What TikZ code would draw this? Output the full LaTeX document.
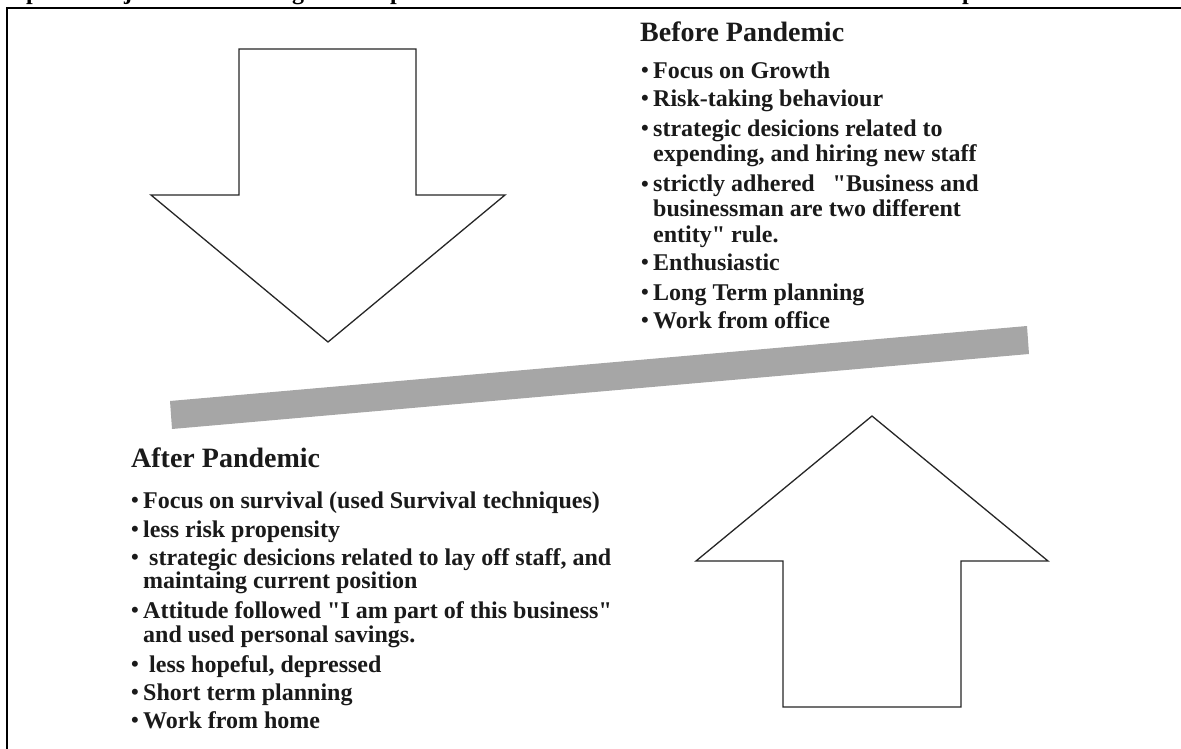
\documentclass[tikz,border=0pt]{standalone}
\usepackage{fontspec}
\setmainfont{Liberation Serif}[Ligatures=TeXOff]
\definecolor{barGray}{HTML}{A6A6A6}
\definecolor{inkDark}{HTML}{1A1A1A}
\begin{document}
\begin{tikzpicture}[x=1pt,y=-1pt,
  hdr/.style={anchor=base west, inner sep=0pt, text=inkDark, font=\fontsize{28}{30}\selectfont\bfseries},
  itm/.style={anchor=base west, inner sep=0pt, text=inkDark, font=\fontsize{24}{26}\selectfont\bfseries},
  bul/.style={anchor=base west, inner sep=0pt, text=inkDark, font=\fontsize{22}{24}\selectfont\bfseries},
  frag/.style={anchor=base west, inner sep=0pt, font=\fontsize{24}{26}\selectfont\bfseries},
  blockarrow/.style={draw=black!85, line width=1.3pt, fill=white, line join=miter}]
\useasboundingbox (0,0) rectangle (1181,749);

% page frame and the clipped caption line above it
\begin{scope}
  \clip (0,0) rectangle (1181,749);
  \node[frag] (c1) at (26,0) {p};
  \node[frag] (c2) at (124,0) {j};
  \node[frag] (c3) at (292,0) {g};
  \node[frag] (c4) at (390,0) {p};
  \node[frag] (c5) at (962,0) {p};
  \draw[line width=1.5pt] (7,760) -- (7,8) -- (1190,8);
\end{scope}

% downward block arrow
\draw[blockarrow] (239,49) -- (416,49) -- (416,195) -- (505,195) -- (328,342)
  -- (151,195) -- (239,195) -- cycle;

% upward block arrow
\draw[blockarrow] (872,416) -- (1048,561) -- (961,561) -- (961,707) -- (783,707)
  -- (783,561) -- (696,561) -- cycle;

% tilted gray bar
\fill[barGray] (170,401) -- (1027,326) -- (1029,354) -- (172,429) -- cycle;

% Before Pandemic
\node[hdr] (bh) at (640,42) {Before Pandemic};
\foreach \n/\y in {1/79,2/107,3/137,4/192,5/270,6/300,7/328}
  \node[bul] (bb\n) at (641,\y-1) {\textbullet};
\node[itm] (b1) at (653,79) {Focus on Growth};
\node[itm] (b2) at (653,107) {Risk-taking behaviour};
\node[itm] (b3) at (653,137) {strategic desicions related to};
\node[itm] (b3b) at (653,162) {expending, and hiring new staff};
\node[itm] (b4) at (653,192) {strictly adhered\ \ \ "Business and};
\node[itm] (b4b) at (653,216) {businessman are two different};
\node[itm] (b4c) at (653,242) {entity" rule.};
\node[itm] (b5) at (653,270) {Enthusiastic};
\node[itm] (b6) at (653,300) {Long\ Term planning};
\node[itm] (b7) at (653,328) {Work from office};

% After Pandemic
\node[hdr] (ah) at (131,467) {After Pandemic};
\foreach \n/\y in {1/508,2/537,3/565,4/618,5/672,6/700,7/728}
  \node[bul] (ab\n) at (131,\y-1) {\textbullet};
\node[itm] (a1) at (143,508) {Focus on survival (used Survival techniques)};
\node[itm] (a2) at (143,537) {less risk propensity};
\node[itm] (a3) at (149,565) {strategic desicions related to lay off staff, and};
\node[itm] (a3b) at (143,588) {maintaing current position};
\node[itm] (a4) at (143,618) {Attitude followed "I am part\ of this business"};
\node[itm] (a4b) at (143,642) {and used personal savings.};
\node[itm] (a5) at (149,672) {less hopeful, depressed};
\node[itm] (a6) at (143,700) {Short term planning};
\node[itm] (a7) at (143,728) {Work from home};
\end{tikzpicture}
\end{document}
